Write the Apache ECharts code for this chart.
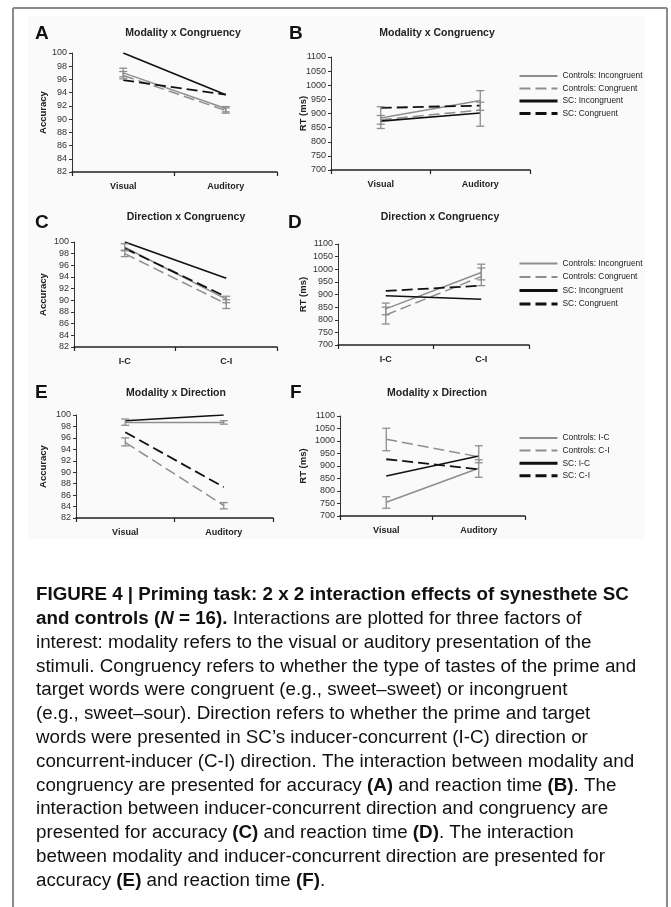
<!DOCTYPE html>
<html>
<head>
<meta charset="utf-8">
<script src="https://cdn.jsdelivr.net/npm/echarts@6/dist/echarts.min.js"></script>
<style>
html,body{margin:0;padding:0;background:#fff;}
#c{width:671px;height:907px;}
</style>
</head>
<body>
<div id="c"></div>
<script>
// ---------- data ----------
var modalityCats = ['Visual', 'Auditory'];
var directionCats = ['I-C', 'C-I'];
var accTicks = [82, 100, 2];      // min, max, step
var rtTicks = [700, 1100, 50];

var congNames = ['Controls: Incongruent', 'Controls: Congruent', 'SC: Incongruent', 'SC: Congruent'];
var dirNames = ['Controls: I-C', 'Controls: C-I', 'SC: I-C', 'SC: C-I'];

// Panel A: accuracy, modality x congruency
var A_ctrlIncong = [97.0, 91.6];
var A_ctrlCong = [96.6, 91.3];
var A_scIncong = [100, 93.7];
var A_scCong = [95.9, 93.7];
var A_ctrlIncongErr = [[0, 96.4, 97.7], [1, 91.1, 91.9]];
var A_ctrlCongErr = [[0, 96.1, 97.2], [1, 90.9, 91.7]];

// Panel B: RT, modality x congruency
var B_ctrlIncong = [884, 946];
var B_ctrlCong = [878, 912];
var B_scIncong = [873, 902];
var B_scCong = [920, 928];
var B_ctrlIncongErr = [[0, 847, 924], [1, 911, 981]];
var B_ctrlCongErr = [[0, 862, 893], [1, 855, 940]];

// Panel C: accuracy, direction x congruency
var C_ctrlIncong = [99.1, 90.2];
var C_ctrlCong = [98.0, 89.4];
var C_scIncong = [100, 93.8];
var C_scCong = [98.9, 90.6];
var C_ctrlIncongErr = [[0, 98.5, 99.7], [1, 89.6, 90.7]];
var C_ctrlCongErr = [[0, 97.5, 98.6], [1, 88.6, 90.1]];

// Panel D: RT, direction x congruency
var D_ctrlIncong = [843, 987];
var D_ctrlCong = [819, 971];
var D_scIncong = [895, 881];
var D_scCong = [914, 935];
var D_ctrlIncongErr = [[0, 820, 866], [1, 958, 1020]];
var D_ctrlCongErr = [[0, 783, 850], [1, 935, 1005]];

// Panel E: accuracy, modality x direction
var E_ctrlIC = [98.7, 98.7];
var E_ctrlCI = [95.2, 84.2];
var E_scIC = [99.0, 100];
var E_scCI = [97.0, 87.4];
var E_ctrlICErr = [[0, 98.2, 99.3], [1, 98.4, 99.0]];
var E_ctrlCIErr = [[0, 94.6, 96.0], [1, 83.6, 84.7]];

// Panel F: RT, modality x direction
var F_ctrlIC = [755, 891];
var F_ctrlCI = [1007, 937];
var F_scIC = [860, 940];
var F_scCI = [927, 887];
var F_ctrlICErr = [[0, 731, 777], [1, 855, 925]];
var F_ctrlCIErr = [[0, 961, 1051], [1, 913, 981]];

var panelTitles = ['Modality x Congruency', 'Modality x Congruency', 'Direction x Congruency',
                   'Direction x Congruency', 'Modality x Direction', 'Modality x Direction'];
var panelLetters = ['A', 'B', 'C', 'D', 'E', 'F'];

var captionLines = [
  '{b|FIGURE 4 | Priming task: 2 x 2 interaction effects of synesthete SC}',
  '{b|and controls (}{bi|N}{b| = 16).} Interactions are plotted for three factors of',
  'interest: modality refers to the visual or auditory presentation of the',
  'stimuli. Congruency refers to whether the type of tastes of the prime and',
  'target words were congruent (e.g., sweet\u2013sweet) or incongruent',
  '(e.g., sweet\u2013sour). Direction refers to whether the prime and target',
  'words were presented in SC\u2019s inducer-concurrent (I-C) direction or',
  'concurrent-inducer (C-I) direction. The interaction between modality and',
  'congruency are presented for accuracy {b|(A)} and reaction time {b|(B)}. The',
  'interaction between inducer-concurrent direction and congruency are',
  'presented for accuracy {b|(C)} and reaction time {b|(D)}. The interaction',
  'between modality and inducer-concurrent direction are presented for',
  'accuracy {b|(E)} and reaction time {b|(F)}.'
];

// ---------- layout / style ----------
var FONT = '"Liberation Sans", Arial, sans-serif';
var GRAY = '#8e8e8e';
var BLACK = '#111111';
var DASH = [11, 5];
var CAP_SIZE = 18.8;

var grids = [
  {left: 72, top: 53, width: 205, height: 119},
  {left: 331, top: 57, width: 199, height: 113},
  {left: 74, top: 242, width: 203, height: 105},
  {left: 338, top: 244, width: 191, height: 101},
  {left: 76, top: 415, width: 197, height: 103},
  {left: 340, top: 416, width: 185, height: 100}
];
var panelCats = [modalityCats, modalityCats, directionCats, directionCats, modalityCats, modalityCats];
var panelRanges = [accTicks, rtTicks, accTicks, rtTicks, accTicks, rtTicks];
var panelYNames = ['Accuracy', 'RT (ms)', 'Accuracy', 'RT (ms)', 'Accuracy', 'RT (ms)'];
var panelNameGaps = [24, 23, 26, 30, 28, 32];

var xAxes = [], yAxes = [];
for (var i = 0; i < 6; i++) {
  xAxes.push({
    gridIndex: i, type: 'category', data: panelCats[i], boundaryGap: true,
    axisLine: {lineStyle: {color: '#222', width: 1.5}},
    axisTick: {show: true, length: 4, lineStyle: {color: '#222', width: 1.2}},
    axisLabel: {fontFamily: FONT, fontSize: 9, fontWeight: 'bold', color: '#222', margin: 10},
    splitLine: {show: false}
  });
  var r = panelRanges[i];
  yAxes.push({
    gridIndex: i, type: 'value', min: r[0], max: r[1], interval: r[2],
    name: panelYNames[i], nameLocation: 'middle', nameRotate: 90, nameGap: panelNameGaps[i],
    nameMoveOverlap: false,
    nameTextStyle: {fontFamily: FONT, fontSize: 9.5, fontWeight: 'bold', color: '#222'},
    axisLine: {show: true, lineStyle: {color: '#333', width: 1}},
    axisTick: {show: true, length: 3, lineStyle: {color: '#333'}},
    axisLabel: {fontFamily: FONT, fontSize: 9, color: '#333', margin: 5,
      formatter: function (v) { return String(v); }},
    splitLine: {show: false}
  });
}

function lineS(name, data, gi, color, dashed, width) {
  return {
    type: 'line', name: name, data: data, xAxisIndex: gi, yAxisIndex: gi,
    symbol: 'none', silent: true, animation: false, z: color === BLACK ? 3 : 2,
    lineStyle: {color: color, width: width, type: dashed ? DASH : 'solid'},
    itemStyle: {color: color}
  };
}
function errS(data, gi) {
  return {
    type: 'custom', xAxisIndex: gi, yAxisIndex: gi, data: data, silent: true, animation: false,
    encode: {x: 0, y: [1, 2]}, z: 4,
    renderItem: function (params, api) {
      var lo = api.coord([api.value(0), api.value(1)]);
      var hi = api.coord([api.value(0), api.value(2)]);
      var w = 4;
      var st = {stroke: GRAY, lineWidth: 1.3};
      return {type: 'group', children: [
        {type: 'line', shape: {x1: lo[0], y1: lo[1], x2: hi[0], y2: hi[1]}, style: st},
        {type: 'line', shape: {x1: lo[0] - w, y1: lo[1], x2: lo[0] + w, y2: lo[1]}, style: st},
        {type: 'line', shape: {x1: hi[0] - w, y1: hi[1], x2: hi[0] + w, y2: hi[1]}, style: st}
      ]};
    }
  };
}

function panelSeries(gi, names, c1, c2, s1, s2, e1, e2) {
  return [
    lineS(names[0], c1, gi, GRAY, false, 1.5),
    lineS(names[1], c2, gi, GRAY, true, 1.5),
    lineS(names[2], s1, gi, BLACK, false, 1.6),
    lineS(names[3], s2, gi, BLACK, true, 1.8),
    errS(e1, gi), errS(e2, gi)
  ];
}

var series = [].concat(
  panelSeries(0, congNames, A_ctrlIncong, A_ctrlCong, A_scIncong, A_scCong, A_ctrlIncongErr, A_ctrlCongErr),
  panelSeries(1, congNames, B_ctrlIncong, B_ctrlCong, B_scIncong, B_scCong, B_ctrlIncongErr, B_ctrlCongErr),
  panelSeries(2, congNames, C_ctrlIncong, C_ctrlCong, C_scIncong, C_scCong, C_ctrlIncongErr, C_ctrlCongErr),
  panelSeries(3, congNames, D_ctrlIncong, D_ctrlCong, D_scIncong, D_scCong, D_ctrlIncongErr, D_ctrlCongErr),
  panelSeries(4, dirNames, E_ctrlIC, E_ctrlCI, E_scIC, E_scCI, E_ctrlICErr, E_ctrlCIErr),
  panelSeries(5, dirNames, F_ctrlIC, F_ctrlCI, F_scIC, F_scCI, F_ctrlICErr, F_ctrlCIErr)
);

function legendItems(names) {
  return names.map(function (n, k) {
    return {name: n, lineStyle: {width: k < 2 ? 2 : 3}, itemStyle: {opacity: 0}};
  });
}
function mkLegend(names, top, gap) {
  return {
    orient: 'vertical', left: 518, top: top, padding: 0, itemWidth: 38, itemHeight: 10, itemGap: gap,
    selectedMode: false, data: legendItems(names),
    textStyle: {fontFamily: FONT, fontSize: 8.4, color: '#222', padding: [0, 0, 0, 0]}
  };
}

// graphic: frame, backdrop, titles, letters, caption
var graphics = [];
graphics.push({type: 'rect', shape: {x: 28, y: 16, width: 617, height: 523}, style: {fill: '#fafafa'}, z: -10, silent: true});
graphics.push({type: 'line', shape: {x1: 13, y1: 8, x2: 667, y2: 8}, style: {stroke: '#8a8a8a', lineWidth: 2}, silent: true});
graphics.push({type: 'line', shape: {x1: 13, y1: 8, x2: 13, y2: 907}, style: {stroke: '#8a8a8a', lineWidth: 2}, silent: true});
graphics.push({type: 'line', shape: {x1: 667, y1: 8, x2: 667, y2: 907}, style: {stroke: '#8a8a8a', lineWidth: 2}, silent: true});

var titlePos = [[183, 33], [437, 33], [186, 217], [440, 217], [176, 393], [437, 393]];
var letterPos = [[35, 34], [289, 34], [35, 223], [288, 223], [35, 393], [290, 393]];
for (var t = 0; t < 6; t++) {
  graphics.push({type: 'text', x: titlePos[t][0], y: titlePos[t][1], silent: true,
    style: {text: panelTitles[t], font: 'bold 10.5px ' + FONT, fill: '#222', align: 'center', verticalAlign: 'middle'}});
  graphics.push({type: 'text', x: letterPos[t][0], y: letterPos[t][1], silent: true,
    style: {text: panelLetters[t], font: 'bold 19px ' + FONT, fill: '#111', align: 'left', verticalAlign: 'middle'}});
}
var capTop = 595, capStep = 23.8;
for (var L = 0; L < captionLines.length; L++) {
  graphics.push({type: 'text', x: 36, y: capTop + L * capStep, silent: true,
    style: {
      text: captionLines[L], font: CAP_SIZE + 'px ' + FONT, fill: '#111', align: 'left', verticalAlign: 'middle',
      rich: {
        b: {font: 'bold ' + CAP_SIZE + 'px ' + FONT, fill: '#111'},
        bi: {font: 'italic bold ' + CAP_SIZE + 'px ' + FONT, fill: '#111'}
      }
    }});
}

var chart = echarts.init(document.getElementById('c'), null, {renderer: 'canvas'});
chart.setOption({
  animation: false,
  backgroundColor: '#ffffff',
  grid: grids,
  xAxis: xAxes,
  yAxis: yAxes,
  legend: [mkLegend(congNames, 72, 4.5), mkLegend(congNames, 259.5, 5.5), mkLegend(dirNames, 434, 4.6)],
  series: series,
  graphic: graphics
});
</script>
</body>
</html>
